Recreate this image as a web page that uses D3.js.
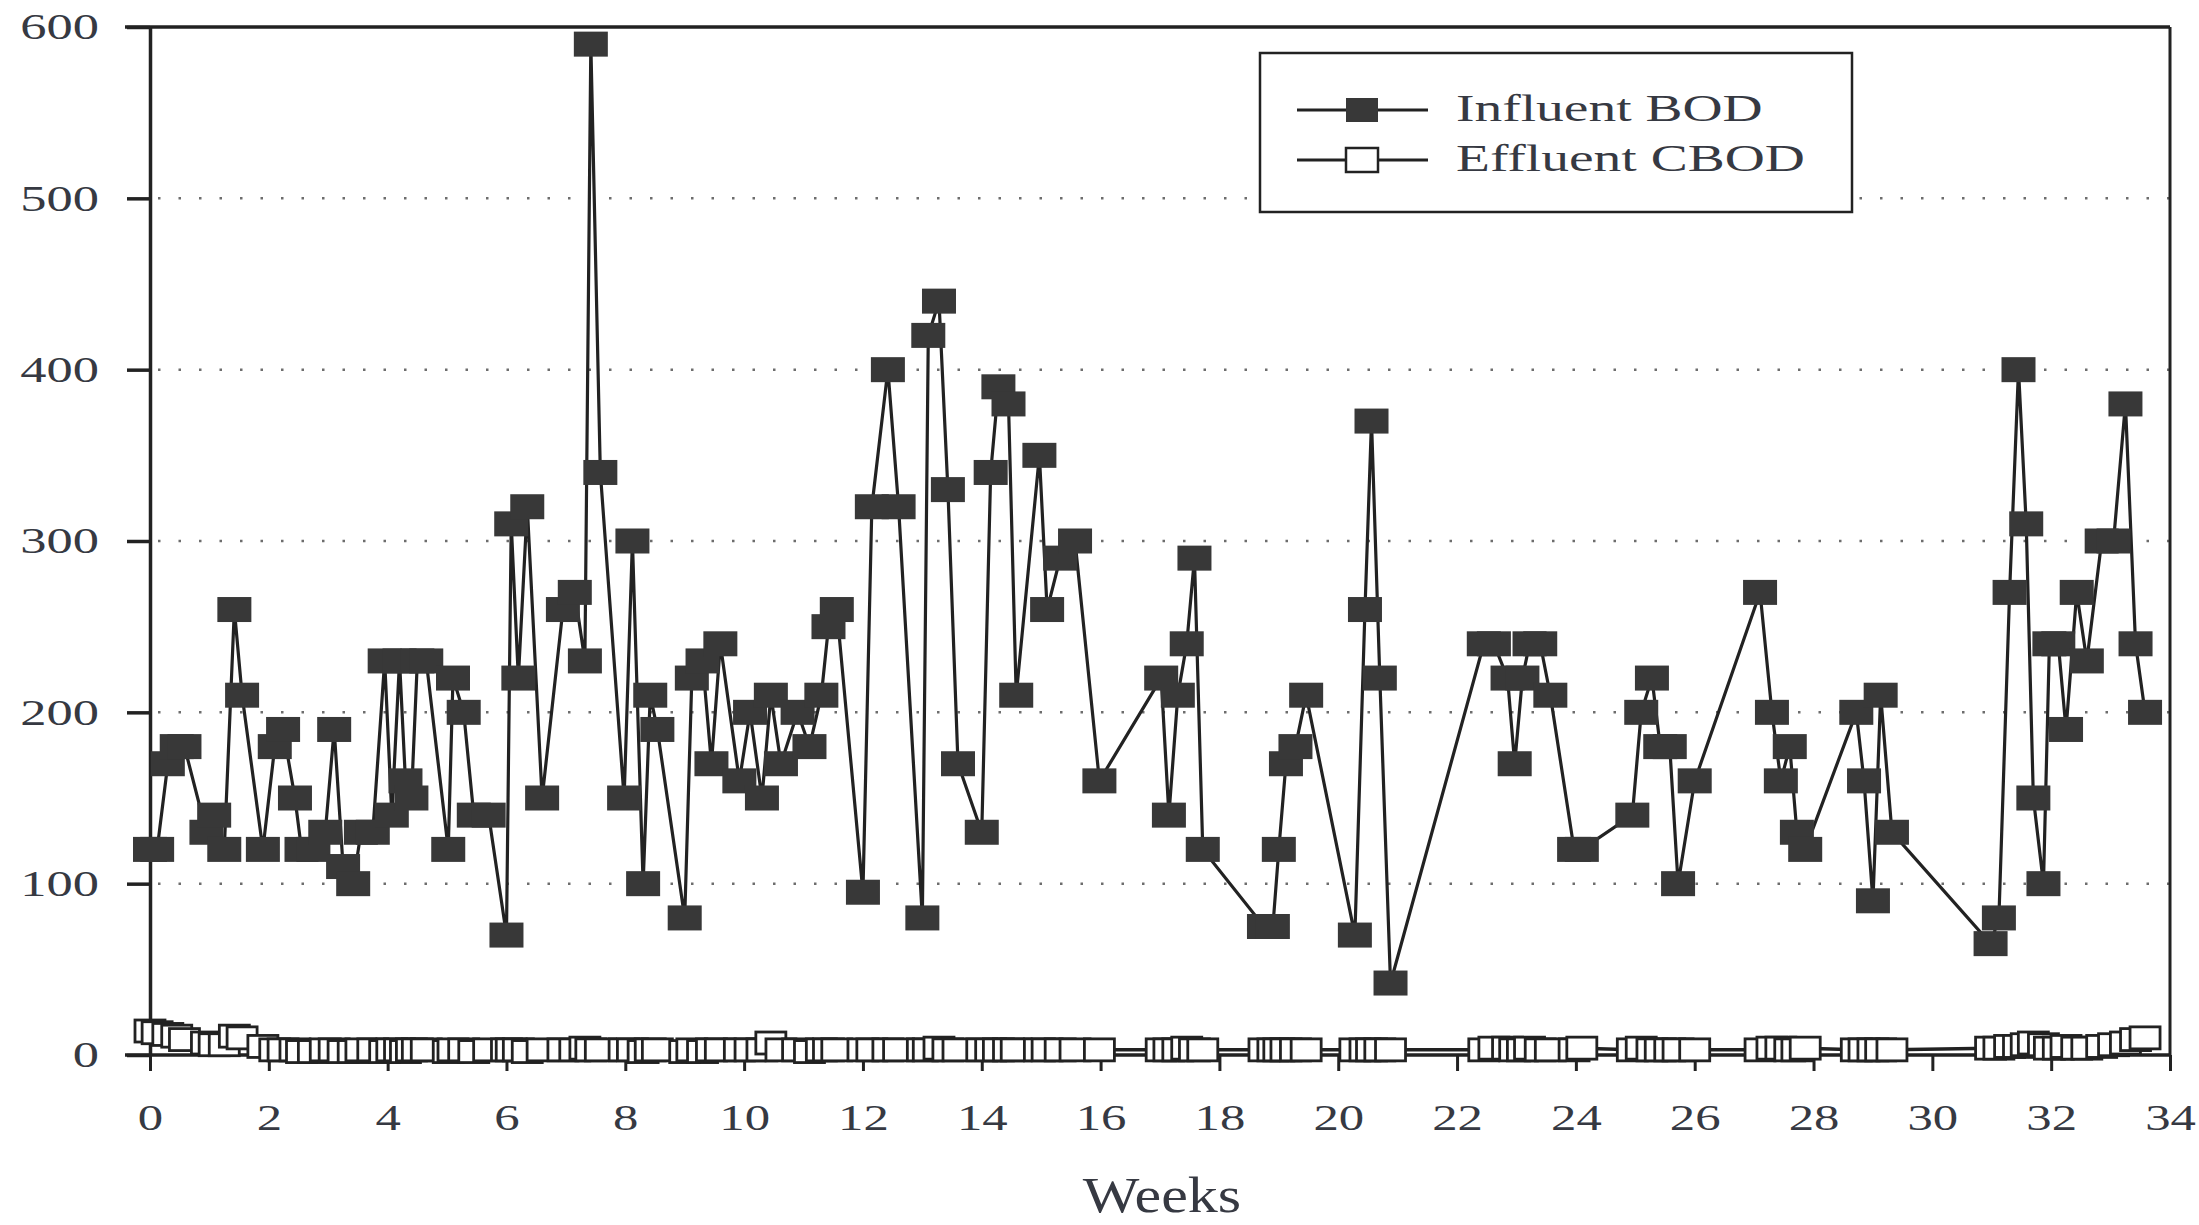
<!DOCTYPE html>
<html>
<head>
<meta charset="utf-8">
<script src="https://cdn.jsdelivr.net/npm/d3@7"></script>
<style>
  body { margin: 0; background: #fff; }
  svg { display: block; }
</style>
</head>
<body>
<div id="chart"></div>
<script>
// sample times (weeks) shared by both series
var weeks = [
  0.0, 0.12, 0.3, 0.45, 0.58, 0.95, 1.08, 1.25, 1.42, 1.55, 1.9,
  2.1, 2.24, 2.44, 2.55, 2.75, 2.95, 3.1, 3.25, 3.42, 3.55, 3.75, 3.95, 4.07, 4.2, 4.3, 4.4, 4.5, 4.65, 5.02,
  5.1, 5.28, 5.45, 5.7, 6.0, 6.08, 6.2, 6.35, 6.6, 6.95, 7.15, 7.32, 7.42, 7.58, 7.98, 8.12, 8.3, 8.42, 8.54, 9.0,
  9.12, 9.3, 9.45, 9.6, 9.92, 10.1, 10.3, 10.45, 10.62, 10.9, 11.1, 11.3, 11.42, 11.56,
  12.0, 12.15, 12.42, 12.6, 13.0, 13.1, 13.28, 13.43, 13.6, 14.0, 14.15, 14.28, 14.45, 14.58, 14.97, 15.1, 15.32, 15.57, 15.98,
  17.02, 17.15, 17.3, 17.45, 17.58, 17.72, 18.75, 18.9, 19.0, 19.12, 19.28, 19.46, 20.28, 20.45, 20.56, 20.7, 20.88,
  22.45, 22.62, 22.85, 22.97, 23.1, 23.22, 23.4, 23.57, 23.97, 24.1, 24.95, 25.1, 25.28, 25.42, 25.58, 25.72, 26.0,
  27.1, 27.3, 27.45, 27.6, 27.72, 27.86, 28.72, 28.85, 29.0, 29.13, 29.32,
  30.98, 31.12, 31.3, 31.45, 31.58, 31.7, 31.87, 31.97, 32.12, 32.25, 32.43, 32.6, 32.85, 33.05, 33.25, 33.42, 33.58
];

var influentBOD = [
  120, 120, 170, 180, 180, 130, 140, 120, 260, 210, 120,
  180, 190, 150, 120, 120, 130, 190, 110, 100, 130, 130, 230, 140, 230, 160, 150, 230, 230, 120,
  220, 200, 140, 140, 70, 310, 220, 320, 150, 260, 270, 230, 590, 340, 150, 300, 100, 210, 190, 80,
  220, 230, 170, 240, 160, 200, 150, 210, 170, 200, 180, 210, 250, 260,
  95, 320, 400, 320, 80, 420, 440, 330, 170, 130, 340, 390, 380, 210, 350, 260, 290, 300, 160,
  220, 140, 210, 240, 290, 120, 75, 75, 120, 170, 180, 210, 70, 260, 370, 220, 42,
  240, 240, 220, 170, 220, 240, 240, 210, 120, 120, 140, 200, 220, 180, 180, 100, 160,
  270, 200, 160, 180, 130, 120, 200, 160, 90, 210, 130,
  65, 80, 270, 400, 310, 150, 100, 240, 240, 190, 270, 230, 300, 300, 380, 240, 200
];

var effluentCBOD = [
  14, 13, 12, 11, 9, 7, 6, 6, 11, 10, 5,
  3, 3, 3, 2, 2, 3, 3, 2, 2, 3, 3, 2, 3, 3, 2, 3, 3, 3, 2,
  3, 3, 2, 3, 3, 3, 3, 2, 3, 3, 3, 4, 3, 3, 3, 3, 2, 3, 3, 2,
  3, 2, 3, 3, 3, 3, 3, 7, 3, 3, 2, 3, 3, 3,
  3, 3, 3, 3, 3, 3, 4, 3, 3, 3, 3, 3, 3, 3, 3, 3, 3, 3, 3,
  3, 3, 3, 4, 3, 3, 3, 3, 3, 3, 3, 3, 3, 3, 3, 3, 3,
  3, 4, 4, 3, 3, 4, 3, 3, 3, 4, 3, 4, 3, 3, 3, 3, 3,
  3, 4, 4, 3, 3, 4, 3, 3, 3, 3, 3,
  4, 4, 5, 5, 6, 7, 6, 4, 4, 5, 4, 4, 5, 6, 7, 9, 10
];

var xTicks = d3.range(0, 35, 2);
var yTicks = [0, 100, 200, 300, 400, 500, 600];
var gridValues = [100, 200, 300, 400, 500];
var seriesNames = ["Influent BOD", "Effluent CBOD"];

var width = 2199, height = 1225;
var inkColor = "#222";
var textColor = "#363942";
var fontFamily = "'Liberation Serif', 'Times New Roman', serif";

var svg = d3.select("#chart").append("svg")
  .attr("width", width)
  .attr("height", height);

svg.append("rect").attr("width", width).attr("height", height).attr("fill", "#fff");

var x = d3.scaleLinear().domain([0, 34]).range([150, 2170]);
var y = d3.scaleLinear().domain([0, 600]).range([1055, 27]);

// dotted grid
svg.append("g").selectAll("line")
  .data(gridValues)
  .enter().append("line")
  .attr("x1", x(0) + 8).attr("x2", x(34))
  .attr("y1", function(d){ return y(d); })
  .attr("y2", function(d){ return y(d); })
  .attr("stroke", "#6d6d6d")
  .attr("stroke-width", 2.5)
  .attr("stroke-dasharray", "2.5,18");

// frame: top and right
svg.append("line")
  .attr("x1", x(0) - 25).attr("x2", x(34))
  .attr("y1", y(600)).attr("y2", y(600))
  .attr("stroke", inkColor).attr("stroke-width", 3.5);
svg.append("line")
  .attr("x1", x(34)).attr("x2", x(34))
  .attr("y1", y(600)).attr("y2", y(0))
  .attr("stroke", inkColor).attr("stroke-width", 3);

// y axis
var yAxis = svg.append("g")
  .attr("transform", "translate(" + x(0) + ",0)")
  .call(d3.axisLeft(y).tickValues(yTicks).tickSize(23).tickSizeOuter(0).tickFormat(d3.format("d")));
yAxis.select(".domain").attr("stroke", inkColor).attr("stroke-width", 3.5);
yAxis.selectAll(".tick line").attr("stroke", inkColor).attr("stroke-width", 3.5);
yAxis.selectAll(".tick text")
  .attr("x", -51 / 1.5)
  .attr("dy", "0.34em")
  .attr("transform", "scale(1.5,1)")
  .attr("fill", textColor)
  .style("font-family", fontFamily)
  .style("font-size", "35px");

// x axis
var xAxis = svg.append("g")
  .attr("transform", "translate(0," + y(0) + ")")
  .call(d3.axisBottom(x).tickValues(xTicks).tickSize(16).tickSizeOuter(0));
xAxis.select(".domain").attr("d", "M" + (x(0) - 25) + ",0H" + x(34))
  .attr("stroke", inkColor).attr("stroke-width", 3.5);
xAxis.selectAll(".tick line").attr("stroke", inkColor).attr("stroke-width", 3);
xAxis.selectAll(".tick text")
  .attr("y", 75)
  .attr("dy", 0)
  .attr("transform", "scale(1.45,1)")
  .attr("fill", textColor)
  .style("font-family", fontFamily)
  .style("font-size", "35px");

// x title
svg.append("text")
  .attr("transform", "translate(" + (x(17) + 2) + ",1212) scale(1.2,1)")
  .attr("text-anchor", "middle")
  .attr("fill", textColor)
  .style("font-family", fontFamily)
  .style("font-size", "50px")
  .text("Weeks");

var points = weeks.map(function(w, i){
  return { w: w, inf: influentBOD[i], eff: effluentCBOD[i] };
});

var line = function(key){
  return d3.line().x(function(d){ return x(d.w); }).y(function(d){ return y(d[key]); });
};

// effluent series
svg.append("path")
  .datum(points)
  .attr("d", line("eff"))
  .attr("fill", "none")
  .attr("stroke", inkColor)
  .attr("stroke-width", 3.5);

svg.append("g").selectAll("rect")
  .data(points)
  .enter().append("rect")
  .attr("x", function(d){ return x(d.w) - 15; })
  .attr("y", function(d){ return y(d.eff) - 11; })
  .attr("width", 30).attr("height", 22)
  .attr("fill", "#fff")
  .attr("stroke", inkColor)
  .attr("stroke-width", 2.8);

// influent series
svg.append("path")
  .datum(points)
  .attr("d", line("inf"))
  .attr("fill", "none")
  .attr("stroke", inkColor)
  .attr("stroke-width", 3.2);

svg.append("g").selectAll("rect")
  .data(points)
  .enter().append("rect")
  .attr("x", function(d){ return x(d.w) - 17; })
  .attr("y", function(d){ return y(d.inf) - 12.5; })
  .attr("width", 34).attr("height", 25)
  .attr("fill", "#383838");

// legend
var legend = svg.append("g");
legend.append("rect")
  .attr("x", 1260).attr("y", 53)
  .attr("width", 592).attr("height", 159)
  .attr("fill", "#fff")
  .attr("stroke", inkColor)
  .attr("stroke-width", 2.5);

var rows = legend.selectAll(".row")
  .data(seriesNames)
  .enter().append("g")
  .attr("class", "row")
  .attr("transform", function(d, i){ return "translate(0," + (110 + i * 50) + ")"; });

rows.append("line")
  .attr("x1", 1297).attr("x2", 1428)
  .attr("y1", 0).attr("y2", 0)
  .attr("stroke", inkColor).attr("stroke-width", 3);

rows.append("rect")
  .attr("x", 1362 - 16).attr("y", -12)
  .attr("width", 32).attr("height", 24)
  .attr("fill", function(d, i){ return i === 0 ? "#383838" : "#fff"; })
  .attr("stroke", inkColor)
  .attr("stroke-width", function(d, i){ return i === 0 ? 0 : 2.5; });

rows.append("text")
  .attr("transform", "translate(1456,11) scale(1.46,1)")
  .attr("fill", textColor)
  .style("font-family", fontFamily)
  .style("font-size", "38px")
  .text(function(d){ return d; });
</script>
</body>
</html>
